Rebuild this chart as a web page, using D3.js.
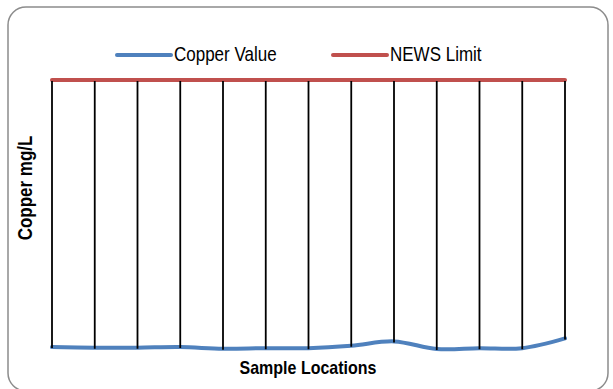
<!DOCTYPE html>
<html>
<head>
<meta charset="utf-8">
<script src="https://cdn.jsdelivr.net/npm/d3@7/dist/d3.min.js"></script>
<style>
  body { margin: 0; background: #fff; }
  text { font-family: "Liberation Sans", Arial, sans-serif; fill: #000; }
</style>
</head>
<body>
<script>
var width = 613,
    height = 389;

// sample locations (no labels shown on the chart)
var locations = ["1", "2", "3", "4", "5", "6", "7", "8", "9", "10", "11", "12", "13"];
// copper values, mg/L
var copperValues = [0.018, 0.016, 0.016, 0.018, 0.012, 0.014, 0.014, 0.023, 0.039, 0.011, 0.014, 0.014, 0.050];
// NEWS limit, mg/L
var newsLimit = [1, 1, 1, 1, 1, 1, 1, 1, 1, 1, 1, 1, 1];
var seriesNames = ["Copper Value", "NEWS Limit"];
var colors = ["#4F81BD", "#C0504D"];

var svg = d3.select("body").append("svg")
    .attr("width", width)
    .attr("height", height);

// chart border
svg.append("rect")
    .attr("x", 8).attr("y", 7)
    .attr("width", 600).attr("height", 384)
    .attr("rx", 18).attr("ry", 18)
    .attr("fill", "#fff")
    .attr("stroke", "#8c8c8c")
    .attr("stroke-width", 1.5);

var x = d3.scalePoint()
    .domain(locations)
    .range([52, 565]);

var y = d3.scaleLinear()
    .domain([0, 1])
    .range([352, 80]);

var rows = locations.map(function (d, i) {
    return { loc: d, copper: copperValues[i], limit: newsLimit[i] };
});

var copperLine = d3.line()
    .x(function (d) { return x(d.loc); })
    .y(function (d) { return y(d.copper); })
    .curve(d3.curveCatmullRom.alpha(0.5));

var limitLine = d3.line()
    .x(function (d) { return x(d.loc); })
    .y(function (d) { return y(d.limit); })
    .curve(d3.curveCatmullRom.alpha(0.5));

svg.append("path")
    .datum(rows)
    .attr("d", limitLine)
    .attr("fill", "none")
    .attr("stroke", colors[1])
    .attr("stroke-width", 4)
    .attr("stroke-linecap", "round");

svg.append("path")
    .datum(rows)
    .attr("d", copperLine)
    .attr("fill", "none")
    .attr("stroke", colors[0])
    .attr("stroke-width", 4)
    .attr("stroke-linecap", "round");

// high-low lines
svg.append("g").selectAll("line")
    .data(rows)
    .enter().append("line")
    .attr("x1", function (d) { return x(d.loc); })
    .attr("x2", function (d) { return x(d.loc); })
    .attr("y1", function (d) { return y(d.limit) + 1; })
    .attr("y2", function (d) { return y(d.copper) + 1; })
    .attr("stroke", "#000")
    .attr("stroke-width", 1.8);

// legend
var legend = svg.append("g");
var legendX = [117, 333];
seriesNames.forEach(function (name, i) {
    legend.append("line")
        .attr("x1", legendX[i]).attr("x2", legendX[i] + 54)
        .attr("y1", 55).attr("y2", 55)
        .attr("stroke", colors[i])
        .attr("stroke-width", 4)
        .attr("stroke-linecap", "round");
    legend.append("text")
        .attr("transform", "translate(" + (legendX[i] + 57) + ",61) scale(1,1.2)")
        .attr("font-size", 17)
        .text(name);
});

// axis titles
svg.append("text")
    .attr("transform", "translate(308,374) scale(1,1.15)")
    .attr("text-anchor", "middle")
    .attr("font-size", 16)
    .attr("font-weight", "bold")
    .text("Sample Locations");

svg.append("text")
    .attr("transform", "translate(32,188) rotate(-90) scale(1,1.15)")
    .attr("text-anchor", "middle")
    .attr("font-size", 17)
    .attr("font-weight", "bold")
    .text("Copper mg/L");
</script>
</body>
</html>
